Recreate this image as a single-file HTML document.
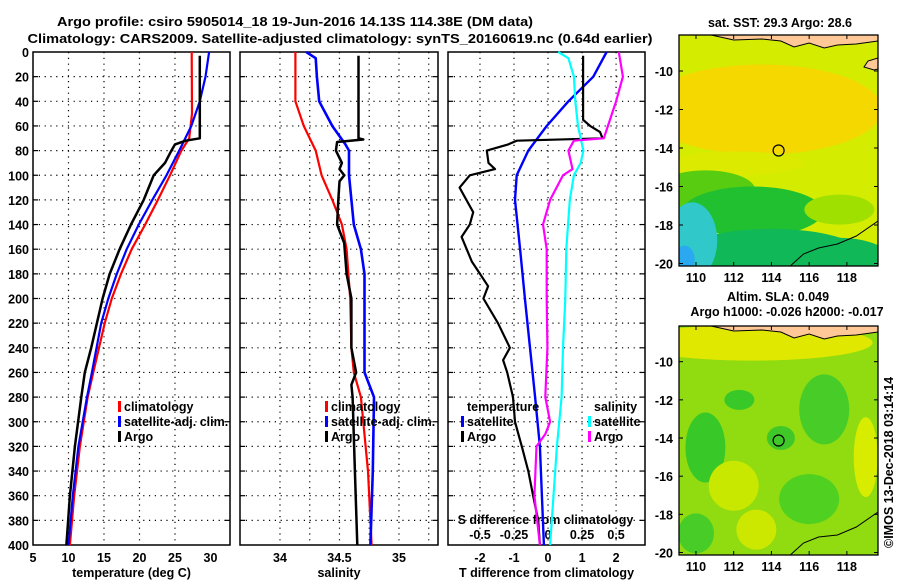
<!DOCTYPE html>
<html><head><meta charset="utf-8"><style>
html,body{margin:0;padding:0;background:#fff;}
body{width:900px;height:580px;overflow:hidden;font-family:"Liberation Sans",sans-serif;}
text{font-family:"Liberation Sans",sans-serif;font-weight:bold;font-size:12.5px;fill:#000;}
</style></head><body>
<svg id="fig" width="900" height="580" viewBox="0 0 900 580" xmlns="http://www.w3.org/2000/svg">
<text x="295" y="26" text-anchor="middle" font-size="16" textLength="476" lengthAdjust="spacingAndGlyphs">Argo profile: csiro 5905014_18 19-Jun-2016 14.13S 114.38E (DM data)</text>
<text x="340" y="43" text-anchor="middle" font-size="16" textLength="625" lengthAdjust="spacingAndGlyphs">Climatology: CARS2009. Satellite-adjusted climatology: synTS_20160619.nc (0.64d earlier)</text>
<g id="panels"></g>
<g id="maps"></g>
<text transform="translate(893,548) rotate(-90)" font-size="11.5" font-weight="normal">©IMOS 13-Dec-2018 03:14:14</text>
</svg>
<script>
// ---------- data ----------
const depths=[0,20,40,60,80,100,120,140,160,180,200,220,240,260,280,300,320,340,360,380,400];
const tempDepthTicks=[0,20,40,60,80,100,120,140,160,180,200,220,240,260,280,300,320,340,360,380,400];
// panel 1: temperature
const climTempD=[0,50,70,80,100,120,140,160,180,200,220,260,280,320,360,400];
const climTemp=[27.35,27.4,27.0,25.9,24.3,22.6,20.8,18.9,17.4,16.1,15.1,13.5,12.7,11.6,10.8,10.2];
const satTempD=[0,20,40,60,80,100,120,140,160,180,200,220,260,280,320,360,400];
const satTemp=[29.8,29.3,28.5,27.3,25.6,23.8,21.8,19.9,18.2,16.8,15.6,14.6,13.3,12.6,11.4,10.6,10.0];
const argoTempD=[3,70,72,75,80,90,100,120,140,160,180,200,220,240,260,280,320,360,400];
const argoTemp=[28.5,28.5,26.5,25.0,24.5,23.6,22.0,20.6,18.8,17.2,15.8,14.8,14.0,13.2,12.3,11.8,10.9,10.2,9.7];
// panel 2: salinity
const climSalD=[0,40,60,80,100,120,140,160,200,240,260,280,340,400];
const climSal=[34.13,34.13,34.2,34.3,34.35,34.44,34.52,34.56,34.59,34.6,34.62,34.68,34.74,34.77];
const satSalD=[0,5,20,40,60,75,80,100,120,140,160,180,220,260,280,340,400];
const satSal=[34.22,34.3,34.31,34.33,34.44,34.55,34.58,34.58,34.6,34.62,34.68,34.71,34.71,34.71,34.79,34.78,34.76];
const argoSalD=[3,70,71,73,80,90,95,100,105,120,140,155,180,200,240,260,270,280,340,400];
const argoSal=[34.66,34.66,34.7,34.48,34.47,34.52,34.5,34.54,34.5,34.49,34.48,34.54,34.56,34.6,34.6,34.64,34.6,34.61,34.63,34.65];
// panel 3: differences
const satTdiffD=[0,20,40,60,80,100,120,160,200,240,280,320,380,400];
const satTdiff=[1.72,1.33,0.6,-0.04,-0.58,-0.92,-0.97,-0.82,-0.68,-0.53,-0.38,-0.24,-0.15,-0.12];
const argoTdiffD=[3,55,60,65,70,72,75,80,90,95,100,110,130,140,150,170,180,190,200,220,240,250,260,280,300,320,340,360,380,400];
const argoTdiff=[1.03,1.03,1.24,1.53,1.6,-0.92,-1.17,-1.8,-1.75,-1.56,-2.3,-2.6,-2.2,-2.3,-2.54,-2.24,-2.0,-1.76,-1.9,-1.47,-1.12,-1.32,-1.2,-1.03,-0.97,-0.77,-0.58,-0.44,-0.29,-0.24];
const satSdiffD=[0,5,20,40,60,80,90,100,120,160,200,240,280,320,360,400];
const satSdiff=[0.075,0.15,0.19,0.2,0.22,0.26,0.24,0.19,0.16,0.134,0.127,0.11,0.1,0.065,0.04,0.015];
const argoSdiffD=[0,20,40,60,70,72,80,95,100,120,140,160,200,240,280,300,310,320,360,400];
const argoSdiff=[0.52,0.55,0.5,0.44,0.41,0.19,0.15,0.18,0.11,0.015,-0.037,-0.01,-0.01,-0.005,-0.02,0.015,-0.02,-0.085,-0.1,-0.06];
const tempTicks=[5,10,15,20,25,30];
const salTicks=["34","34.5","35"];
const tdiffTicks=[-2,-1,0,1,2];
const sdiffTicks=[-0.5,-0.25,0,0.25,0.5];

// ---------- helpers ----------
const NS="http://www.w3.org/2000/svg";
function mk(tag,attrs,parent){const e=document.createElementNS(NS,tag);for(const k in attrs)e.setAttribute(k,attrs[k]);parent.appendChild(e);return e;}
const TOP=52,BOT=545;
function yD(d){return TOP+(d/400)*(BOT-TOP);}
const panelsG=document.getElementById('panels');
const P1={l:33,r:230,min:5,max:32.75};
const P2={l:240,r:438,min:33.664,max:35.328};
const P3={l:448,r:645,min:-2.94,max:2.85};
function xf(p){return v=>p.l+(v-p.min)/(p.max-p.min)*(p.r-p.l);}
const x1=xf(P1),x2=xf(P2),x3=xf(P3);
function xs(v){return x3(v*4);}

function frame(p,name,vgrid){
  const g=mk('g',{},panelsG);
  
  
  vgrid.forEach(x=>{const l=mk('line',{x1:x,x2:x,y1:TOP,y2:BOT,stroke:'#000','stroke-width':1.2,'stroke-dasharray':'1.2 4.6'},g);
    });
  depths.forEach(d=>{if(d===0||d===400)return;const y=yD(d);
    const l=mk('line',{x1:p.l,x2:p.r,y1:y,y2:y,stroke:'#000','stroke-width':1.2,'stroke-dasharray':'1.2 4.6'},g);
    
    mk('line',{x1:p.l,x2:p.l+5,y1:y,y2:y,stroke:'#000','stroke-width':1.2},g);
    mk('line',{x1:p.r-5,x2:p.r,y1:y,y2:y,stroke:'#000','stroke-width':1.2},g);});
  const r=mk('rect',{x:p.l,y:TOP,width:p.r-p.l,height:BOT-TOP,fill:'none',stroke:'#000','stroke-width':1.5},g);
  
  return g;
}
function line(g,xfn,vals,ds,color,w,name){
  const pts=vals.map((v,i)=>xfn(v).toFixed(1)+','+yD(ds[i]).toFixed(1)).join(' ');
  const pl=mk('polyline',{points:pts,fill:'none',stroke:color,'stroke-width':w,'stroke-linejoin':'round'},g);
  
  
}
function txt(g,x,y,s,anchor,name){const t=mk('text',{x:x,y:y,'text-anchor':anchor||'start'},g);t.textContent=s;
  return t;}
function legend(g,x,y,color,label,name){
  const m=mk('rect',{x:x,y:y-10,width:3,height:11,fill:color},g);
  
  txt(g,x+6,y,label,'start',name);
}

// depth axis labels
const yaxG=mk('g',{},panelsG);


tempDepthTicks.forEach(d=>txt(yaxG,29,yD(d)+5,String(d),'end','depth-tick-label'));

// panel 1
const g1=frame(P1,'temperature-panel',[10,15,20,25].map(x1));
tempTicks.forEach(t=>txt(g1,x1(t),562,String(t),'middle','temperature-tick-label'));
txt(g1,(P1.l+P1.r)/2,577,'temperature (deg C)','middle','x-axis-title-temperature');
line(g1,x1,climTemp,climTempD,'#f00',2.2,'climatology-temperature-line');
line(g1,x1,satTemp,satTempD,'#00f',2.2,'satellite-temperature-line');
line(g1,x1,argoTemp,argoTempD,'#000',2.5,'argo-temperature-line');
legend(g1,118,411,'#f00','climatology','legend-climatology');
legend(g1,118,426,'#00f','satellite-adj. clim.','legend-satellite');
legend(g1,118,441,'#000','Argo','legend-argo');

// panel 2
const g2=frame(P2,'salinity-panel',[34,34.25,34.5,34.75,35,35.25].map(x2));
salTicks.forEach(t=>txt(g2,x2(parseFloat(t)),562,t,'middle','salinity-tick-label'));
txt(g2,(P2.l+P2.r)/2,577,'salinity','middle','x-axis-title-salinity');
line(g2,x2,climSal,climSalD,'#f00',2.2,'climatology-salinity-line');
line(g2,x2,satSal,satSalD,'#00f',2.6,'satellite-salinity-line');
line(g2,x2,argoSal,argoSalD,'#000',2.5,'argo-salinity-line');
legend(g2,325,411,'#f00','climatology','legend-climatology');
legend(g2,325,426,'#00f','satellite-adj. clim.','legend-satellite');
legend(g2,325,441,'#000','Argo','legend-argo');

// panel 3
const g3=frame(P3,'difference-panel',[-2,-1,0,1,2].map(x3));
tdiffTicks.forEach(t=>txt(g3,x3(t),562,String(t),'middle','t-difference-tick-label'));
txt(g3,(P3.l+P3.r)/2,577,'T difference from climatology','middle','x-axis-title-t-difference');
txt(g3,(P3.l+P3.r)/2-1,524,'S difference from climatology','middle','s-difference-axis-title');
sdiffTicks.forEach(t=>txt(g3,xs(t),539,String(t),'middle','s-difference-tick-label'));
line(g3,x3,satTdiff,satTdiffD,'#00f',2.4,'satellite-t-difference-line');
line(g3,x3,argoTdiff,argoTdiffD,'#000',2.2,'argo-t-difference-line');
line(g3,xs,satSdiff,satSdiffD,'#0ff',2.2,'satellite-s-difference-line');
line(g3,xs,argoSdiff,argoSdiffD,'#f0f',2.2,'argo-s-difference-line');
txt(g3,467,411,'temperature','start','legend-temperature-heading');
legend(g3,461,426,'#00f','satellite','legend-t-satellite');
legend(g3,461,441,'#000','Argo','legend-t-argo');
txt(g3,594,411,'salinity','start','legend-salinity-heading');
legend(g3,588,426,'#0ff','satellite','legend-s-satellite');
legend(g3,588,441,'#f0f','Argo','legend-s-argo');

// ---------- maps ----------
const mapsG=document.getElementById('maps');
const lonTicks=[110,112,114,116,118];
const latTicks=[-10,-12,-14,-16,-18,-20];
function makeMap(name,top,bottom,blobs,base,coast){
  const L=679,R=878;
  const lx=lon=>L+(lon-109.1)/(119.65-109.1)*(R-L);
  const ly=lat=>top+(-lat-8.13)/(20.13-8.13)*(bottom-top);
  const g=mk('g',{},mapsG);
  
  
  const cid='clip'+name;
  const cp=mk('clipPath',{id:cid},g);mk('rect',{x:L,y:top,width:R-L,height:bottom-top},cp);
  const inner=mk('g',{'clip-path':'url(#'+cid+')'},g);
  mk('rect',{x:L,y:top,width:R-L,height:bottom-top,fill:base},inner);
  blobs.forEach(b=>mk('ellipse',{cx:lx(b[0]),cy:ly(b[1]),rx:b[2],ry:b[3],fill:b[4]},inner));
  coast(inner,lx,ly,L,R,top,bottom);
  const c=mk('circle',{cx:lx(114.38),cy:ly(-14.13),r:5.5,fill:'none',stroke:'#000','stroke-width':1.2},g);
  
  mk('rect',{x:L,y:top,width:R-L,height:bottom-top,fill:'none',stroke:'#000','stroke-width':1.3},g);
  lonTicks.forEach(t=>{mk('line',{x1:lx(t),x2:lx(t),y1:top,y2:top+4,stroke:'#000'},g);mk('line',{x1:lx(t),x2:lx(t),y1:bottom-4,y2:bottom,stroke:'#000'},g);
    txt(g,lx(t),bottom+16,String(t),'middle','longitude-tick-label');});
  latTicks.forEach(t=>{mk('line',{x1:L,x2:L+4,y1:ly(t),y2:ly(t),stroke:'#000'},g);mk('line',{x1:R-4,x2:R,y1:ly(t),y2:ly(t),stroke:'#000'},g);
    txt(g,L-6,ly(t)+5,String(t),'end','latitude-tick-label');});
}
function coastTop(g,lx,ly,L,R,top,bottom){
  mk('path',{d:`M${lx(110.8)},${top} L${lx(112)},${top+5} L${lx(113.5)},${top+4} L${lx(114.5)},${top+6} L${lx(115.2)},${top+12} L${lx(116)},${top+8} L${lx(116.8)},${top+13} L${lx(117.5)},${top+10} L${lx(118.5)},${top+9} L${R},${top+6} L${R},${top} Z`,fill:'#ffc896',stroke:'#000','stroke-width':1},g);
  mk('path',{d:`M${R},${top+23} L${R-10},${top+26} L${R-14},${top+32} L${R-4},${top+35} L${R},${top+34} Z`,fill:'#ffc896',stroke:'#000','stroke-width':1},g);
  mk('polyline',{points:`${lx(115)},${bottom} ${lx(115.7)},${bottom-12} ${lx(116.5)},${bottom-18} ${lx(117.5)},${bottom-22} ${lx(118.5)},${bottom-30} ${R},${bottom-45}`,fill:'none',stroke:'#000','stroke-width':1},g);
}
makeMap('sst-map',35,266,[
  [113.5,-12,120,45,'#f4d800'],
  [112,-14.8,70,12,'#dcea00'],
  [110.5,-16.2,50,20,'#58cc10'],
  [113,-17.3,70,25,'#20c030'],
  [117.6,-17.2,35,15,'#a0e000'],
  [114,-19.5,90,25,'#10b858'],
  [109.8,-18.8,25,38,'#30c8c8'],
  [109.4,-19.8,10,14,'#2aa8f0'],
  [117.5,-19.6,50,18,'#10b858']
],'#d4ec00',coastTop);
txt(mapsG,780,27,'sat. SST: 29.3 Argo: 28.6','middle','sst-map-title');
function coastBot(g,lx,ly,L,R,top,bottom){
  mk('path',{d:`M${lx(110.8)},${top} L${lx(112)},${top+5} L${lx(113.5)},${top+4} L${lx(114.5)},${top+6} L${lx(115.2)},${top+12} L${lx(116)},${top+8} L${lx(116.8)},${top+13} L${lx(117.5)},${top+10} L${lx(118.5)},${top+9} L${R},${top+6} L${R},${top} Z`,fill:'#ffc896',stroke:'#000','stroke-width':1},g);
  mk('polyline',{points:`${lx(115)},${bottom} ${lx(115.7)},${bottom-12} ${lx(116.5)},${bottom-18} ${lx(117.5)},${bottom-20} ${lx(118.5)},${bottom-28} ${R},${bottom-43}`,fill:'none',stroke:'#000','stroke-width':1},g);
}
makeMap('sla-map',326,555,[
  [113,-9,120,18,'#e0e800'],
  [110.5,-14.5,20,35,'#38c828'],
  [112.3,-12,15,10,'#38c828'],
  [116.8,-12.5,25,35,'#48cc28'],
  [114.5,-14,14,12,'#40c828'],
  [116,-17.2,30,25,'#50d020'],
  [110,-19,18,20,'#48cc28'],
  [119,-15,12,40,'#d8ec00'],
  [112,-16.5,25,25,'#c8e800'],
  [113.2,-18.8,20,20,'#cce800']
],'#90dc10',coastBot);
txt(mapsG,778,301,'Altim. SLA: 0.049','middle','sla-map-title');
txt(mapsG,787,316,'Argo h1000: -0.026 h2000: -0.017','middle','sla-map-subtitle');
</script>
</body></html>
